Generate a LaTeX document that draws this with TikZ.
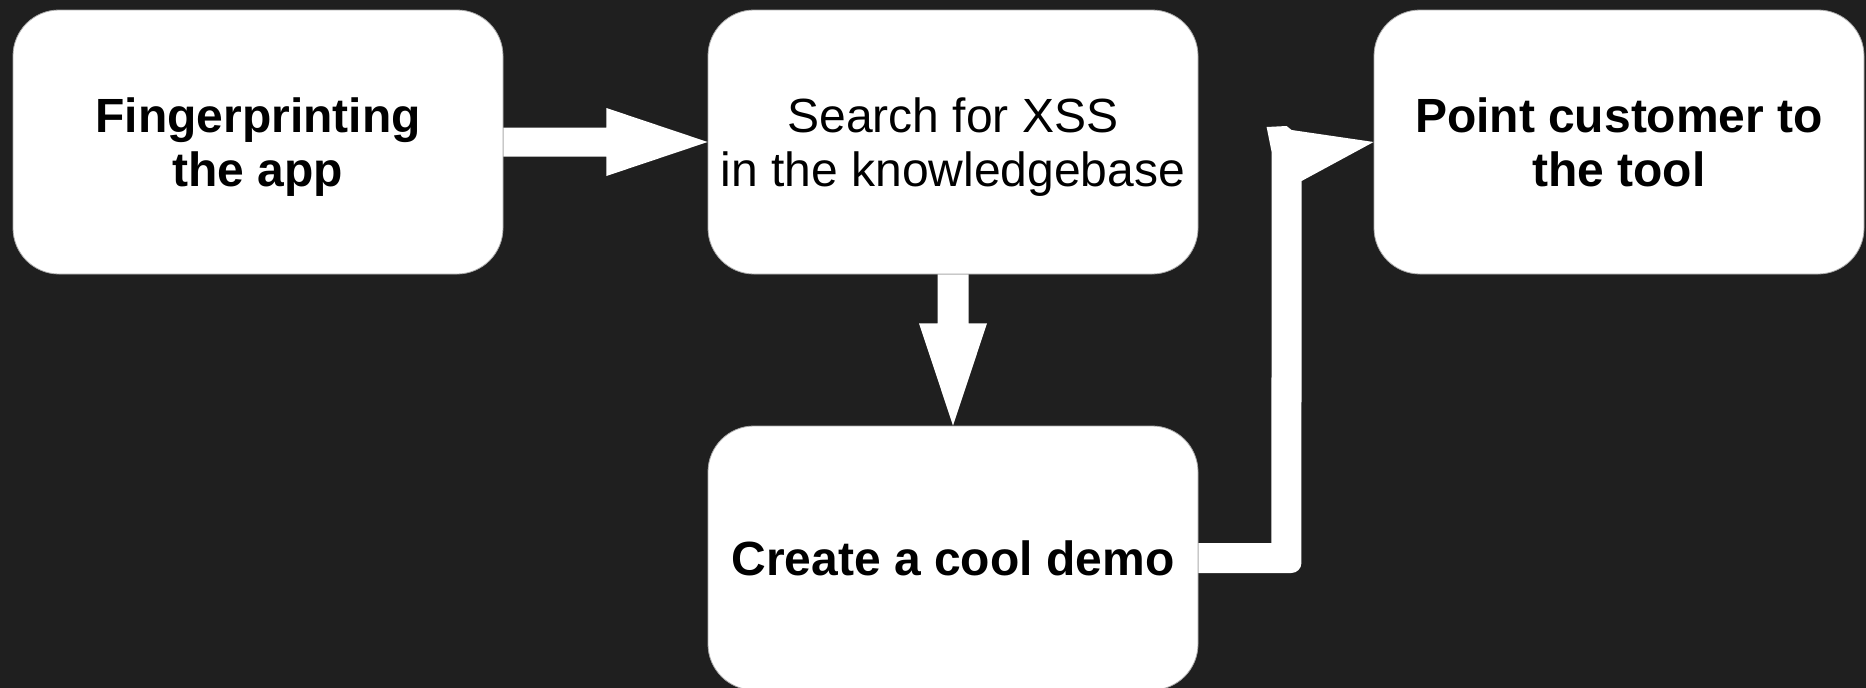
\documentclass[tikz,border=0pt]{standalone}
\usepackage{fontspec}
\setmainfont{Liberation Sans}
\usetikzlibrary{calc}
\definecolor{bg}{RGB}{31,31,31}
\definecolor{edge}{RGB}{170,170,170}
% last line of a label: keep its descenders out of the centring
\newcommand{\nodepth}[1]{\raisebox{0pt}[\height][0pt]{#1}}
\begin{document}
\begin{tikzpicture}[x=1pt,y=-1pt,
  card/.style={rectangle, rounded corners=46pt, fill=white, draw=edge, line width=0.8pt,
    minimum width=490pt, minimum height=264pt, inner sep=0pt, align=center,
    text=black, font=\fontsize{48}{54}\selectfont},
  bold card/.style={card, font=\fontsize{48}{54}\selectfont\bfseries},
  blockarrow/.style={fill=white, draw=none}]
  % canvas
  \fill[bg] (0,0) rectangle (1866,688);
  \useasboundingbox (0,0) rectangle (1866,688);

  % steps
  \node[bold card] (fp)   at (258,142) {Fingerprinting\\\nodepth{the app}};
  \node[card]      (srch) at (953,142) {Search for XSS\\\nodepth{in the knowledgebase}};
  \node[bold card] (pt)   at (1619,142) {Point customer to\\\nodepth{the tool}};
  \node[bold card] (demo) at (953,558) {Create a cool demo};

  % fingerprinting -> search
  \fill[blockarrow]
    ($(fp.east)+(0,-14.5)$) -- ($(fp.east)+(103,-14.5)$) -- ($(fp.east)+(103,-34)$)
    -- (srch.west) -- ($(fp.east)+(103,34)$) -- ($(fp.east)+(103,14.5)$)
    -- ($(fp.east)+(0,14.5)$) -- cycle;

  % search -> demo
  \fill[blockarrow]
    ($(srch.south)+(-15.5,0)$) -- ($(srch.south)+(-15.5,49)$) -- ($(srch.south)+(-34,49)$)
    -- (demo.north) -- ($(srch.south)+(34,49)$) -- ($(srch.south)+(15.5,49)$)
    -- ($(srch.south)+(15.5,0)$) -- cycle;

  % demo -> point customer (elbow)
  \fill[blockarrow]
    ($(demo.east)+(0,-15)$) -- ($(demo.east)+(73,-15)$)
    -- ($(pt.west)+(-102,10)$) -- ($(pt.west)+(-107,-15)$)
    -- ($(pt.west)+(-87,-16)$) -- ($(pt.west)+(-82,-12)$)
    -- (pt.west) -- ($(pt.west)+(-72,39)$)
    -- ($(demo.east)+(103,5)$) arc[start angle=0, end angle=90, radius=10]
    -- ($(demo.east)+(0,15)$) -- cycle;
\end{tikzpicture}
\end{document}
